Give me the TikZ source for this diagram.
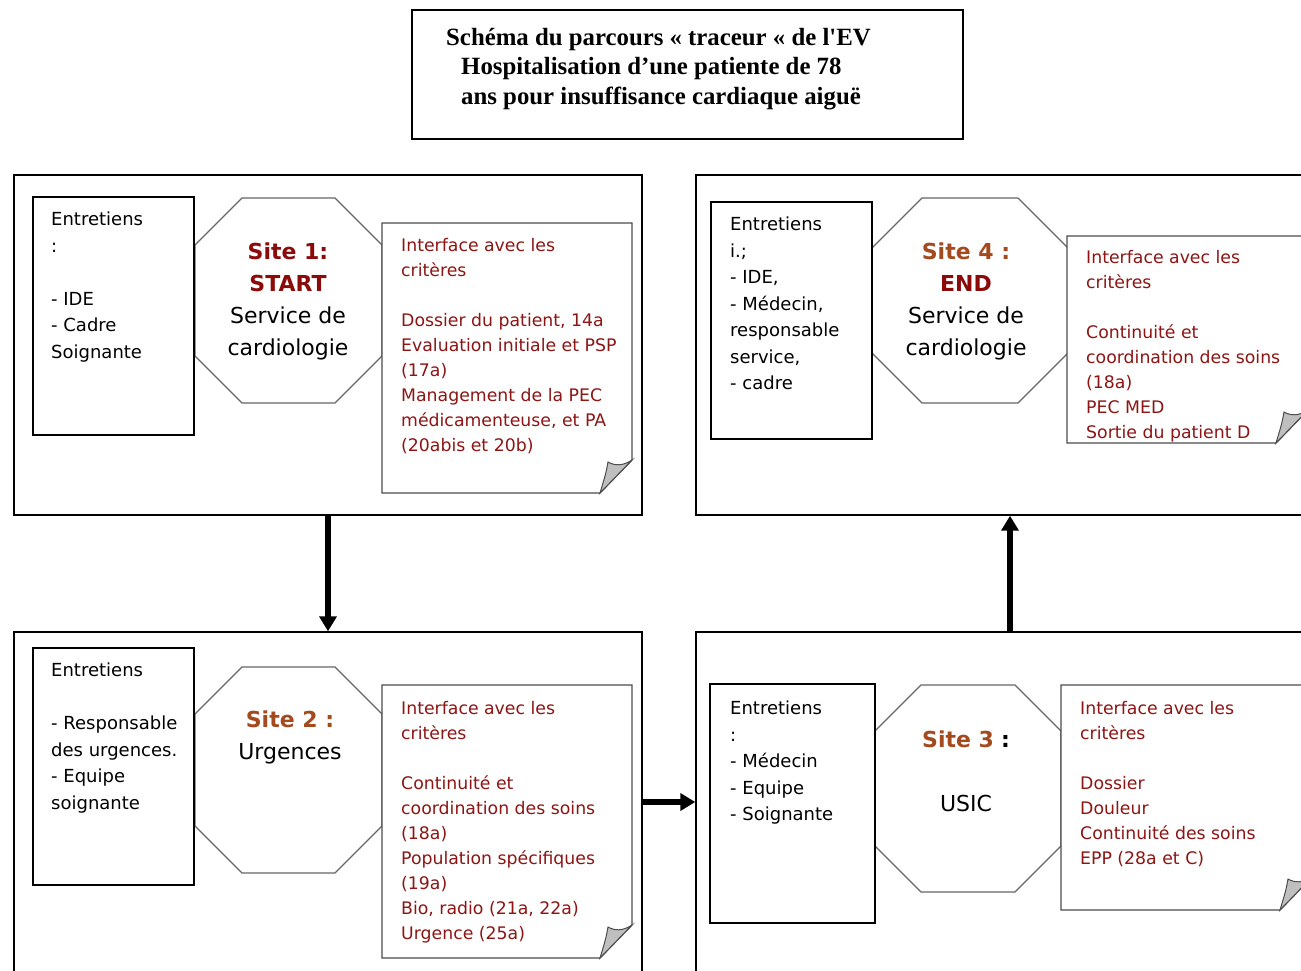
\documentclass[tikz,border=0pt]{standalone}
\usepackage{fontspec}
\setmainfont{DejaVu Sans}
\newfontfamily\titrefont{Liberation Serif}
\usetikzlibrary{arrows.meta}

\newcommand{\octogone}[5]{%
  \draw[octo] (#1+#5,#2) -- (#3-#5,#2) -- (#3,#2+#5) -- (#3,#4-#5)
    -- (#3-#5,#4) -- (#1+#5,#4) -- (#1,#4-#5) -- (#1,#2+#5) -- cycle;}
\newcommand{\feuille}[4]{%
  \filldraw[page] (#1,#2) -- (#3,#2) -- (#3,#4-33) -- (#3-32,#4) -- (#1,#4) -- cycle;
  \filldraw[pli] (#3,#4-33) .. controls (#3-9,#4-27) and (#3-17,#4-27) .. (#3-24,#4-31)
    .. controls (#3-26,#4-20) .. (#3-32,#4) -- cycle;}

\begin{document}
\begin{tikzpicture}[
    x=1pt,y=-1pt,
    font=\fontsize{17.5}{26.5}\selectfont,
    cadre/.style={draw=black,line width=1.4pt,inner sep=0pt},
    bloc/.style={draw=black,line width=1.4pt,fill=white},
    octo/.style={draw=black!60,line width=1.3pt},
    page/.style={draw=black!70,line width=1.3pt,fill=white},
    pli/.style={draw=black!70,line width=1pt,fill=black!25},
    fleche/.style={line width=5.5pt,-{Triangle[length=15pt,width=17pt]}},
    liste/.style={anchor=north west,inner sep=0pt,align=left,font=\fontsize{18}{26.5}\selectfont},
    crit/.style={anchor=north west,inner sep=0pt,align=left,text=notered,font=\fontsize{17.3}{25}\selectfont},
    site/.style={inner sep=0pt,align=center,font=\fontsize{22}{32}\selectfont},
    titre/.style={anchor=north west,inner sep=0pt,align=left,font=\titrefont\bfseries\fontsize{24.8}{29.5}\selectfont}
  ]
    \definecolor{notered}{HTML}{8C1515}
    \definecolor{sitered}{HTML}{8B0A0A}
    \definecolor{sitebrown}{HTML}{A34A1E}
    \useasboundingbox (0,0) rectangle (1301,970);
    \clip (0,0) rectangle (1301,970);
    \fill[white] (0,0) rectangle (1301,970);

    \draw[line width=1.4pt] (412,10) rectangle (963,139);
    \node[titre] (titre) at (446,28) {Schéma du parcours « traceur « de l'EV\\
      \hspace*{15pt}Hospitalisation d’une patiente de 78\\
      \hspace*{15pt}ans pour insuffisance cardiaque aiguë};

    \node[cadre,minimum width=628pt,minimum height=340pt] (site1) at (328,345) {};
    \node[cadre,minimum width=628pt,minimum height=340pt] (site2) at (328,802) {};
    \node[cadre,minimum width=628pt,minimum height=340pt] (site3) at (1010,802) {};
    \node[cadre,minimum width=628pt,minimum height=340pt] (site4) at (1010,345) {};

    \octogone{195}{198}{382}{403}{47}
    \draw[bloc] (33,197) rectangle (194,435);
    \feuille{382}{223}{632}{493}
    \node[liste] (qui1) at (51,212) {Entretiens\\:\\[26.5pt]- IDE\\- Cadre\\Soignante};
    \node[site] (nom1) at (288,301) {{\bfseries\color{sitered}Site 1:}\\
      {\bfseries\color{sitered}START}\\Service de\\cardiologie};
    \node[crit] (crit1) at (401,238) {Interface avec les\\critères\\[25pt]
      Dossier du patient, 14a\\Evaluation initiale et PSP\\(17a)\\
      Management de la PEC\\médicamenteuse, et PA\\(20abis et 20b)};

    \octogone{195}{667}{382}{873}{47}
    \draw[bloc] (33,648) rectangle (194,885);
    \feuille{382}{685}{632}{958}
    \node[liste] (qui2) at (51,663) {Entretiens\\[26.5pt]- Responsable\\
      des urgences.\\- Equipe\\soignante};
    \node[site,anchor=north] (nom2) at (290,711) {{\bfseries\color{sitebrown}Site 2 :}\\Urgences};
    \node[crit] (crit2) at (401,701) {Interface avec les\\critères\\[25pt]
      Continuité et\\coordination des soins\\(18a)\\Population spécifiques\\
      (19a)\\Bio, radio (21a, 22a)\\Urgence (25a)};

    \octogone{875}{685}{1061}{892}{46}
    \draw[bloc] (710,684) rectangle (875,923);
    \feuille{1061}{685}{1312}{910}
    \node[liste] (qui3) at (730,701) {Entretiens\\:\\- Médecin\\- Equipe\\- Soignante};
    \node[site,anchor=north] (nom3) at (966,731) {{\bfseries\color{sitebrown}Site 3}
      {\bfseries :}\\[32pt]USIC};
    \node[crit] (crit3) at (1080,701) {Interface avec les\\critères\\[25pt]
      Dossier\\Douleur\\Continuité des soins\\EPP (28a et C)};

    \octogone{872}{198}{1068}{403}{50}
    \draw[bloc] (711,202) rectangle (872,439);
    \feuille{1067}{236}{1308}{443}
    \node[liste] (qui4) at (730,217) {Entretiens\\i.;\\- IDE,\\- Médecin,\\
      responsable\\service,\\- cadre};
    \node[site] (nom4) at (966,301) {{\bfseries\color{sitebrown}Site 4 :}\\
      {\bfseries\color{sitered}END}\\Service de\\cardiologie};
    \node[crit] (crit4) at (1086,250) {Interface avec les\\critères\\[25pt]
      Continuité et\\coordination des soins\\(18a)\\PEC MED\\Sortie du patient D};

    \draw[fleche] (site1.south) -- (site2.north);
    \draw[fleche] (site2.east) -- (site3.west);
    \draw[fleche] (site3.north) -- (site4.south);
  \end{tikzpicture}
\end{document}
